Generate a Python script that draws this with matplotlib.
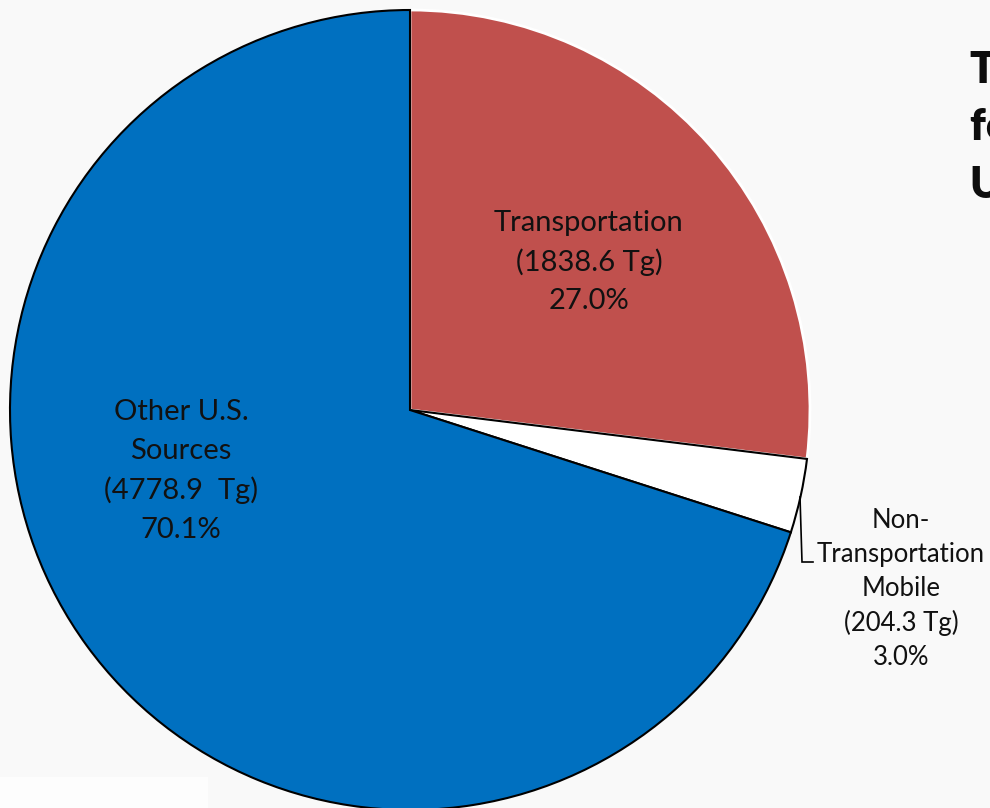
import numpy as np
import matplotlib.pyplot as plt
from matplotlib.patches import Rectangle

plt.rcParams['font.family'] = ['Lato', 'DejaVu Sans']

# emissions, Tg CO2 eq.
categories = ['Transportation', 'Non-Transportation Mobile', 'Other U.S. Sources']
values = [1838.6, 204.3, 4778.9]
shares = [27.0, 3.0, 70.1]
colors = ['#C0504D', '#FFFFFF', '#0070C0']
edge_colors = ['#FFFFFF', '#000000', '#000000']

W, H = 990, 808
fig = plt.figure(figsize=(W / 100, H / 100), dpi=100)
fig.patch.set_facecolor('#F9F9F9')
ax = fig.add_axes([0, 0, 1, 1])

# pixel-like coordinates, y measured from the bottom
cx, cy, r = 410, H - 410, 400

wedges, _ = ax.pie(values, colors=colors, startangle=90, counterclock=False,
                   center=(cx, cy), radius=r, frame=True)
for w, ec in zip(wedges, edge_colors):
    w.set_edgecolor(ec)
    w.set_linewidth(2.0 if ec == '#FFFFFF' else 1.5)
ax.set_xlim(0, W)
ax.set_ylim(0, H)
ax.set_aspect('equal')
ax.axis('off')

txt = dict(ha='center', va='center', fontsize=21, color='#111111', linespacing=1.58)
ax.text(589, H - 262, f'Transportation\n({values[0]} Tg)\n{shares[0]:.1f}%', **txt)
ax.text(181, H - 471, f'Other U.S.\nSources\n({values[2]}  Tg)\n{shares[2]:.1f}%', **txt)
ax.text(901, H - 589, f'Non-\nTransportation\nMobile\n({values[1]} Tg)\n{shares[1]:.1f}%',
        ha='center', va='center', fontsize=18.5, color='#111111', linespacing=1.45)

# leader line for the small slice
ax.plot([800, 802, 813], [H - 497, H - 562, H - 562], color='black', lw=1.2,
        solid_joinstyle='miter')

# title, running off the right edge as on the slide
ax.text(970, H - 50, 'Transportation Share\nfor Total\nU.S. Emissions', ha='left', va='top',
        fontsize=31, fontweight='heavy', color='#0D0D0D', linespacing=1.53, clip_on=False)

# white box in lower left corner
ax.add_patch(Rectangle((0, 0), 208, 31, facecolor='#FDFDFD', edgecolor='none', zorder=0))

fig.savefig('out.png', dpi=100, facecolor=fig.get_facecolor())
